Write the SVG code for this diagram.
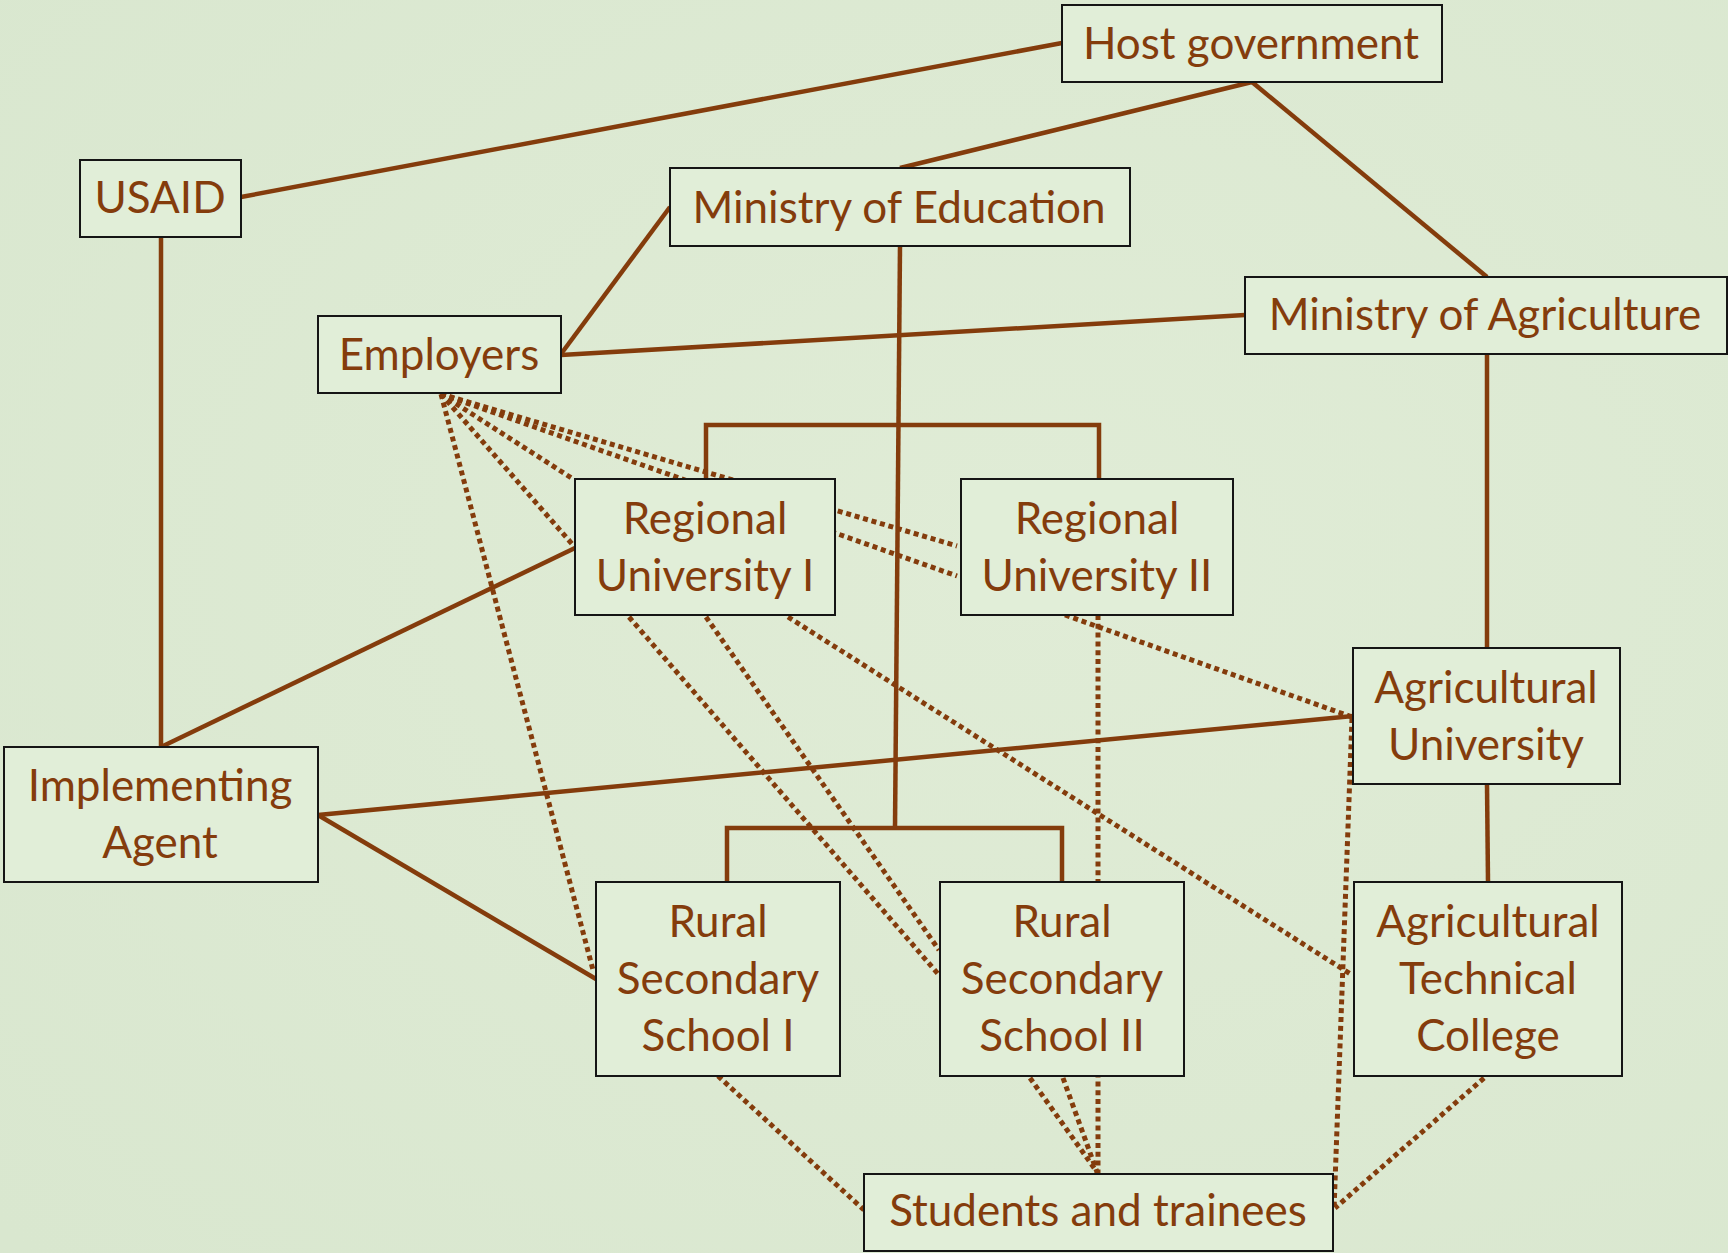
<svg xmlns="http://www.w3.org/2000/svg" width="1728" height="1253" viewBox="0 0 1728 1253">
  <defs>
    <radialGradient id="bg" cx="0.6" cy="0.45" r="0.8">
      <stop offset="0" stop-color="#e0ecd6"/>
      <stop offset="1" stop-color="#d9e7cf"/>
    </radialGradient>
    <style>
      .box { fill: #e1eed8; stroke: #151515; stroke-width: 2; }
      .lbl { font-family: Lato, "Open Sans", "Liberation Sans", sans-serif; font-size: 44px; fill: #843c0c; text-anchor: middle; }
      .solid { fill: none; stroke: #843c0c; stroke-width: 4.5; }
      .dot { fill: none; stroke: #843c0c; stroke-width: 5; stroke-dasharray: 5 3.8; }
    </style>
  </defs>

  <rect width="1728" height="1253" fill="url(#bg)"/>

  <g id="connectors">
    <!-- solid reporting / funding links -->
    <path class="solid" d="M241,197 L1062,43"/>
    <path class="solid" d="M1252,82 L900,168"/>
    <path class="solid" d="M1252,82 L1487,277"/>
    <path class="solid" d="M670,207 L561,354"/>
    <path class="solid" d="M561,355 L1245,315"/>
    <path class="solid" d="M161,237 L161,747"/>
    <path class="solid" d="M161,747 L575,548"/>
    <path class="solid" d="M318,815 L1353,716"/>
    <path class="solid" d="M318,815 L596,979"/>
    <path class="solid" d="M900,246 L895,828"/>
    <path class="solid" d="M706,479 V425 H1099 V479"/>
    <path class="solid" d="M727,882 V828 H1062 V882"/>
    <path class="solid" d="M1487,354 V648"/>
    <path class="solid" d="M1487,784 L1488,882"/>

    <!-- dotted informal links -->
    <path class="dot" d="M441,394 L593,970"/>
    <path class="dot" d="M441,394 L573,545"/>
    <path class="dot" d="M441,394 L573,479"/>
    <path class="dot" d="M441,394 L957,546"/>
    <path class="dot" d="M441,394 L957,576"/>
    <path class="dot" d="M629,617 L939,975"/>
    <path class="dot" d="M706,617 L939,950"/>
    <path class="dot" d="M788,617 L1352,975"/>
    <path class="dot" d="M1065,615 L1352,717"/>
    <path class="dot" d="M1098,615 L1098,1173"/>
    <path class="dot" d="M1030,1078 L1097,1172"/>
    <path class="dot" d="M1063,1078 L1097,1172"/>
    <path class="dot" d="M718,1076 L864,1210"/>
    <path class="dot" d="M1352,718 L1334,1210"/>
    <path class="dot" d="M1484,1078 L1335,1208"/>
  </g>

  <g id="host-government">
    <rect class="box" x="1062" y="5" width="380" height="77"/>
    <text class="lbl" x="1251" y="59">Host government</text>
  </g>
  <g id="usaid">
    <rect class="box" x="80" y="160" width="161" height="77"/>
    <text class="lbl" x="160" y="213">USAID</text>
  </g>
  <g id="ministry-of-education">
    <rect class="box" x="670" y="168" width="460" height="78"/>
    <text class="lbl" x="899" y="223">Ministry of Education</text>
  </g>
  <g id="ministry-of-agriculture">
    <rect class="box" x="1245" y="277" width="482" height="77"/>
    <text class="lbl" x="1485" y="330">Ministry of Agriculture</text>
  </g>
  <g id="employers">
    <rect class="box" x="318" y="316" width="243" height="77"/>
    <text class="lbl" x="439" y="370">Employers</text>
  </g>
  <g id="regional-university-1">
    <rect class="box" x="575" y="479" width="260" height="136"/>
    <text class="lbl" x="705" y="534">Regional</text>
    <text class="lbl" x="705" y="591">University I</text>
  </g>
  <g id="regional-university-2">
    <rect class="box" x="961" y="479" width="272" height="136"/>
    <text class="lbl" x="1097" y="534">Regional</text>
    <text class="lbl" x="1097" y="591">University II</text>
  </g>
  <g id="agricultural-university">
    <rect class="box" x="1353" y="648" width="267" height="136"/>
    <text class="lbl" x="1486" y="703">Agricultural</text>
    <text class="lbl" x="1486" y="760">University</text>
  </g>
  <g id="implementing-agent">
    <rect class="box" x="4" y="747" width="314" height="135"/>
    <text class="lbl" x="160" y="801">Implementing</text>
    <text class="lbl" x="160" y="858">Agent</text>
  </g>
  <g id="rural-secondary-school-1">
    <rect class="box" x="596" y="882" width="244" height="194"/>
    <text class="lbl" x="718" y="937">Rural</text>
    <text class="lbl" x="718" y="994">Secondary</text>
    <text class="lbl" x="718" y="1051">School I</text>
  </g>
  <g id="rural-secondary-school-2">
    <rect class="box" x="940" y="882" width="244" height="194"/>
    <text class="lbl" x="1062" y="937">Rural</text>
    <text class="lbl" x="1062" y="994">Secondary</text>
    <text class="lbl" x="1062" y="1051">School II</text>
  </g>
  <g id="agricultural-technical-college">
    <rect class="box" x="1354" y="882" width="268" height="194"/>
    <text class="lbl" x="1488" y="937">Agricultural</text>
    <text class="lbl" x="1488" y="994">Technical</text>
    <text class="lbl" x="1488" y="1051">College</text>
  </g>
  <g id="students-and-trainees">
    <rect class="box" x="864" y="1174" width="469" height="77"/>
    <text class="lbl" x="1098" y="1226">Students and trainees</text>
  </g>
</svg>
